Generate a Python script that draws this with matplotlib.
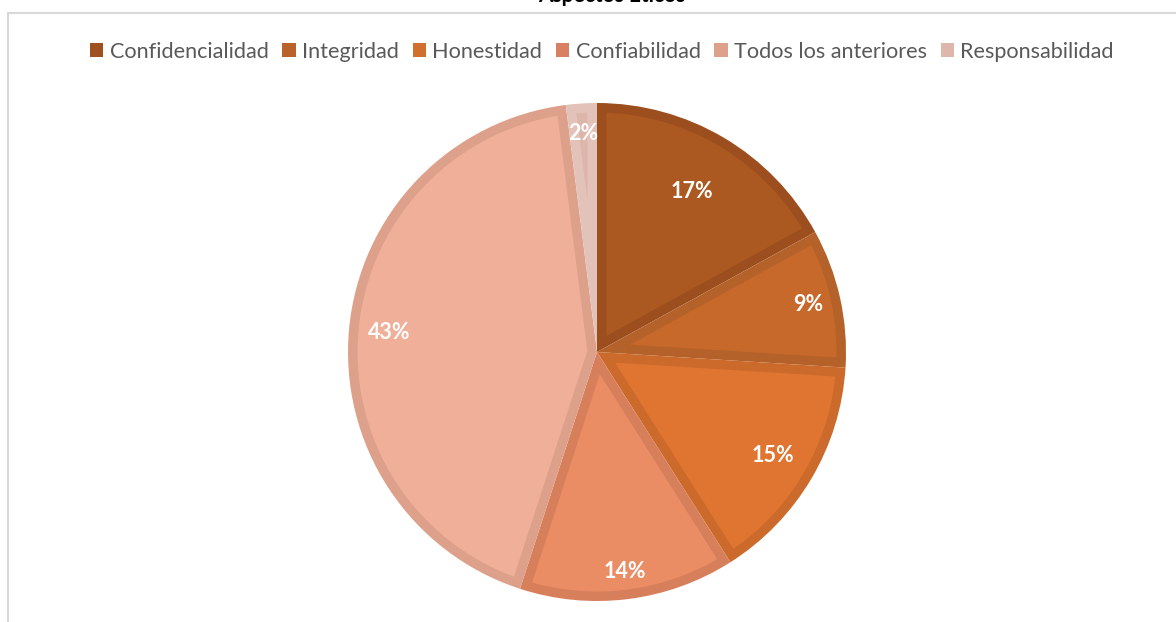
import matplotlib
matplotlib.use("Agg")
import matplotlib.pyplot as plt
from matplotlib.lines import Line2D
from matplotlib.patches import Patch, Polygon
import numpy as np

categories = ["Confidencialidad", "Integridad", "Honestidad", "Confiabilidad",
              "Todos los anteriores", "Responsabilidad"]
values = [17, 9, 15, 14, 43, 2]
labels = ["17%", "9%", "15%", "14%", "43%", "2%"]
title = "Aspectos Éticos"

fill_colors = ["#AB5920", "#C7692A", "#DF7530", "#EA8D65", "#F0AF98", "#DDB6AB"]
edge_colors = ["#9C4E1E", "#B5612A", "#CB6A2A", "#D77E5B", "#DDA08B", "#E3C2B9"]
legend_colors = ["#9E501F", "#B9632A", "#D0702C", "#DA8062", "#DDA08A", "#DFB6AC"]
label_dist = [0.75, 0.87, 0.82, 0.89, 0.84, 0.88]

W, H = 1176, 622
fig = plt.figure(figsize=(W / 100, H / 100), dpi=100)
fig.patch.set_facecolor("white")

# chart frame (partially visible)
fig.add_artist(Line2D([8 / W, 1.0], [1 - 12.5 / H, 1 - 12.5 / H], color="#D9D9D9", lw=1.5,
                      transform=fig.transFigure))
fig.add_artist(Line2D([8 / W, 8 / W], [0, 1 - 12.5 / H], color="#D9D9D9", lw=1.5,
                      transform=fig.transFigure))

# title, mostly cut off at top as in the reference
fig.text(612 / W, 1 - 1.5 / H, title, ha="center", va="baseline", fontsize=15,
         fontweight="bold", family="Lato", color="#000000")

cx, cy, r = 597, 352, 249
ax = fig.add_axes([(cx - r) / W, (H - cy - r) / H, 2 * r / W, 2 * r / H])
wedges, _ = ax.pie(values, colors=edge_colors, startangle=90, counterclock=False,
                   radius=1.0, wedgeprops=dict(linewidth=0))
ax.set_xlim(-1.0, 1.0)
ax.set_ylim(-1.0, 1.0)
ax.set_aspect("equal")
ax.axis("off")

# inner fill of each slice, inset by the border width
t = 9.5 / r
for w, fc in zip(wedges, fill_colors):
    a1, a2 = w.theta1, w.theta2
    h = np.radians(a2 - a1) / 2
    b = np.radians(a1 + a2) / 2
    d = t / np.sin(h)
    apex = (d * np.cos(b), d * np.sin(b))
    phi = np.degrees(np.arcsin(t / (1 - t)))
    angs = np.radians(np.linspace(a1 + phi, a2 - phi, 200))
    pts = [apex] + [((1 - t) * np.cos(a), (1 - t) * np.sin(a)) for a in angs]
    ax.add_patch(Polygon(pts, closed=True, facecolor=fc, edgecolor="none"))

total = sum(values)
cum = 0
for v, lab, dd in zip(values, labels, label_dist):
    mid = 90 - (cum + v / 2) / total * 360
    cum += v
    x = dd * np.cos(np.radians(mid))
    y = dd * np.sin(np.radians(mid))
    ax.text(x, y, lab, ha="center", va="center", color="white", fontsize=15.5,
            fontweight="bold", family="Lato")

handles = [Patch(facecolor=c, edgecolor="none") for c in legend_colors]
leg = fig.legend(handles, categories, loc="center", bbox_to_anchor=(602 / W, 1 - 52 / H),
                 ncol=6, frameon=False, fontsize=15.6, handlelength=0.62, handleheight=0.62,
                 handletextpad=0.3, columnspacing=0.62, borderaxespad=0)
for tx in leg.get_texts():
    tx.set_color("#595959")
    tx.set_family("Lato")

fig.savefig("out.png", dpi=100, facecolor="white")
